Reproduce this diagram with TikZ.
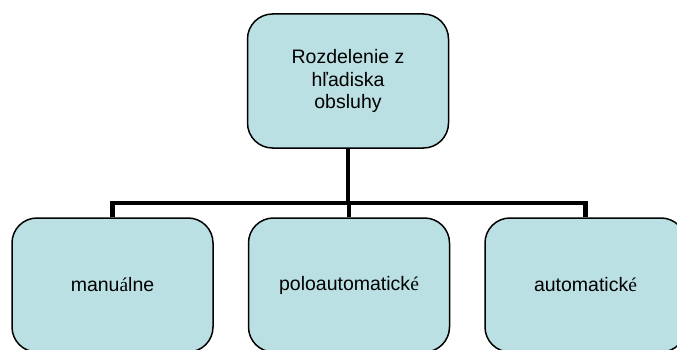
\documentclass[tikz,border=0pt]{standalone}
\usepackage{fontspec}
\setmainfont{Liberation Sans}
\newfontfamily\accfont{Liberation Serif}
\definecolor{boxfill}{RGB}{187,224,227}
\tikzset{
  box/.style={draw, line width=1.5pt, fill=boxfill, rounded corners=25pt,
    minimum width=201pt, minimum height=134pt, inner sep=0pt, align=center,
    font=\fontsize{19.5}{22.5}\selectfont},
  conn/.style={line width=4.5pt}
}

\begin{document}
\begin{tikzpicture}[x=1pt,y=-1pt]
          \useasboundingbox (0,0) rectangle (677,350);
          \node[box] (obsluha) at (348,81) {Rozdelenie z\\hľadiska\\obsluhy};
          \node[box] (manual) at (112.5,285) {manu{\accfont á}lne};
          \node[box] (polo) at (349,285) {poloautomatick{\accfont é}};
          \node[box] (auto) at (585.5,285) {automatick{\accfont é}};
          \coordinate (bus) at (348,203);
          \draw[conn] (obsluha.south) -- (bus);
          \draw[conn] (manual.north) |- (bus) -| (auto.north);
          \draw[conn] (polo.north) -- (polo.north |- bus);
        \end{tikzpicture}
\end{document}
